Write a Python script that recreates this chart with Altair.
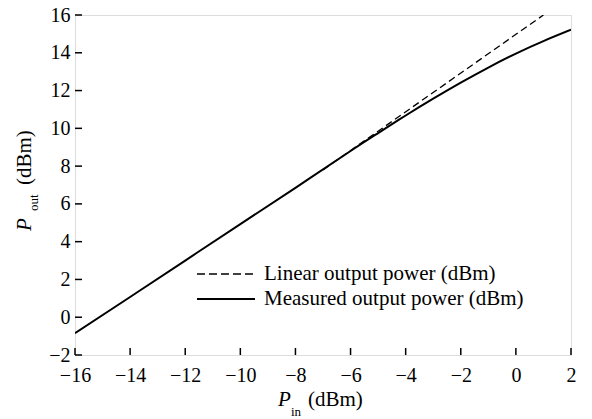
import altair as alt
import pandas as pd

# Measured output power (dBm) vs input power (dBm)
meas_x = [-16, -14, -12, -10, -8, -6, -5, -4, -3, -2, -1, 0, 1, 2]
meas_y = [-0.85, 1.07, 3.0, 4.93, 6.85, 8.8, 9.75, 10.68, 11.57, 12.42, 13.22, 13.96, 14.62, 15.22]
# Linear output power (dBm) reference line
lin_x = [-7, 1]
lin_y = [7.8, 16.0]

x_ticks = [-16, -14, -12, -10, -8, -6, -4, -2, 0, 2]
y_ticks = [-2, 0, 2, 4, 6, 8, 10, 12, 14, 16]

legend_labels = ["Linear output power (dBm)", "Measured output power (dBm)"]

FONT = "Liberation Serif"
W, H = 496, 340

meas = pd.DataFrame({"x": meas_x, "y": meas_y})
lin = pd.DataFrame({"x": lin_x, "y": lin_y})
xt = pd.DataFrame({"x": x_ticks})
yt = pd.DataFrame({"y": y_ticks})

xs = alt.Scale(domain=[-16, 2], nice=False, zero=False)
ys = alt.Scale(domain=[-2, 16], nice=False, zero=False)
xaxis = alt.Axis(values=x_ticks, ticks=False, domain=False, grid=False,
                 labelFont=FONT, labelFontSize=20, labelColor="black",
                 labelPadding=10, title=None, labelFlush=False)
yaxis = alt.Axis(values=y_ticks, ticks=False, domain=False, grid=False,
                 labelFont=FONT, labelFontSize=20, labelColor="black",
                 labelPadding=5, title=None, labelFlush=False)

def X():
    return alt.X("x:Q", scale=xs, axis=xaxis)

def Y():
    return alt.Y("y:Q", scale=ys, axis=yaxis)

measured = alt.Chart(meas).mark_line(color="black", strokeWidth=2, clip=True,
                                     interpolate="natural").encode(x=X(), y=Y())
linear = alt.Chart(lin).mark_line(color="black", strokeWidth=1.3, strokeDash=[7, 4],
                                  clip=True).encode(x=X(), y=Y())

xtick = alt.Chart(xt).mark_rule(color="black", strokeWidth=1.5).encode(
    x=X(), y=alt.value(H), y2=alt.value(H - 7))
ytick = alt.Chart(yt).mark_rule(color="black", strokeWidth=1.5).encode(
    y=Y(), x=alt.value(0), x2=alt.value(7))

# legend
leg_df = pd.DataFrame({"label": legend_labels})
leg_dash = alt.Chart(leg_df.iloc[[0]]).mark_rule(color="black", strokeWidth=1.3, strokeDash=[8, 4]).encode(
    x=alt.value(122), x2=alt.value(180), y=alt.value(259))
leg_solid = alt.Chart(leg_df.iloc[[1]]).mark_rule(color="black", strokeWidth=2).encode(
    x=alt.value(122), x2=alt.value(180), y=alt.value(284))
leg_t1 = alt.Chart(leg_df.iloc[[0]]).mark_text(font=FONT, fontSize=21, align="left", baseline="middle", color="black").encode(
    text="label:N", x=alt.value(189), y=alt.value(259))
leg_t2 = alt.Chart(leg_df.iloc[[1]]).mark_text(font=FONT, fontSize=21, align="left", baseline="middle", color="black").encode(
    text="label:N", x=alt.value(189), y=alt.value(284))

# axis titles (rich text: italic P with subscript)
def txt(s, x, y, size=21, italic=False, angle=0):
    kw = dict(font=FONT, fontSize=size, align="left", baseline="alphabetic", color="black")
    if italic:
        kw["fontStyle"] = "italic"
    if angle:
        kw["angle"] = angle
    return alt.Chart(pd.DataFrame({"t": [s]})).mark_text(**kw).encode(
        text="t:N", x=alt.value(x), y=alt.value(y))

xt_p = txt("P", 203, 391, italic=True)
xt_sub = txt("in", 216, 401, size=13)
xt_rest = txt("(dBm)", 233, 391)

yt_p = txt("P", -44, 216, italic=True, angle=270)
yt_sub = txt("out", -37, 196, size=13, angle=270)
yt_rest = txt("(dBm)", -44, 170, angle=270)

chart = alt.layer(
    linear, measured, xtick, ytick,
    leg_dash, leg_solid, leg_t1, leg_t2,
    xt_p, xt_sub, xt_rest, yt_p, yt_sub, yt_rest,
).properties(
    width=W, height=H,
    autosize=alt.AutoSizeParams(type="none"),
    padding={"left": 67, "top": 7, "right": 13, "bottom": 64},
).configure_view(
    stroke="black", strokeWidth=1.5
).configure(background="white")

chart.save("out.html", embed_options={"renderer": "svg", "actions": False})
